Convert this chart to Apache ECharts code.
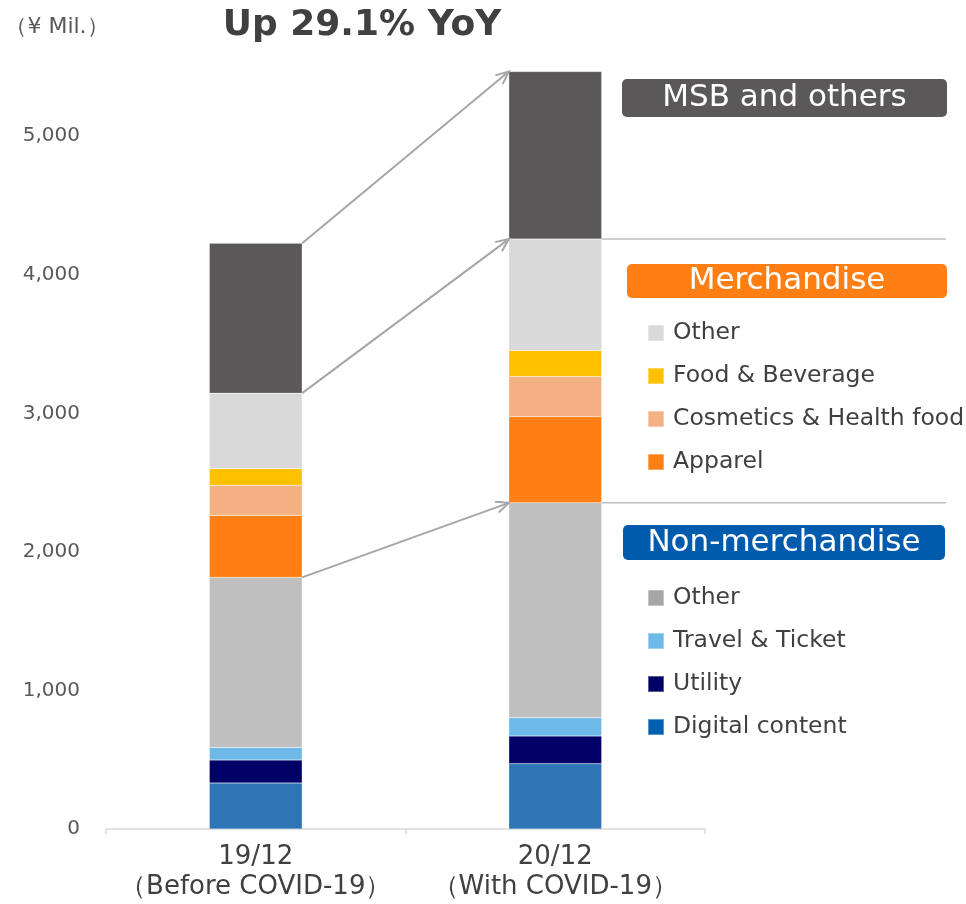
<!DOCTYPE html>
<html>
<head>
<meta charset="utf-8">
<script src="https://cdn.jsdelivr.net/npm/echarts@6/dist/echarts.min.js"></script>
<style>
  html, body { margin: 0; padding: 0; background: #fff; }
  #chart { width: 966px; height: 904px; }
</style>
</head>
<body>
<div id="chart"></div>
<script>
// categories
const categories = ['19/12\n（Before COVID-19）', '20/12\n（With COVID-19）'];

// series values (¥ Mil.), bottom to top
const digitalContent = [332, 471];
const utility = [166, 200];
const travelTicket = [91, 132];
const otherNonMerch = [1227, 1551];
const apparel = [447, 623];
const cosmetics = [219, 289];
const foodBeverage = [118, 188];
const otherMerch = [546, 804];
const msbOthers = [1082, 1209];

// axis
const Y_MIN = 0;
const Y_MAX = 5500;
const Y_INTERVAL = 1000;

// colours
const TEXT = '#404040';
const LINK = '#A6A6A6';
const FONT = 'DejaVu Sans';
const BAR_RATIO = 0.31;

const sumAt = (arrs, i) => arrs.reduce((s, a) => s + a[i], 0);
const nonMerch = [0, 1].map(i => sumAt([digitalContent, utility, travelTicket, otherNonMerch], i));
const merchTop = [0, 1].map(i => nonMerch[i] + sumAt([apparel, cosmetics, foodBeverage, otherMerch], i));
const total = [0, 1].map(i => merchTop[i] + msbOthers[i]);

const stackDefs = [
  { name: 'Digital content', data: digitalContent, color: '#2E75B6', legend: '#0060B0' },
  { name: 'Utility', data: utility, color: '#000066', legend: '#000066' },
  { name: 'Travel & Ticket', data: travelTicket, color: '#6DB9E8', legend: '#6DB9E8' },
  { name: 'Other (non-merchandise)', data: otherNonMerch, color: '#BFBFBF', legend: '#A6A6A6' },
  { name: 'Apparel', data: apparel, color: '#FF7F14', legend: '#FF7F14' },
  { name: 'Cosmetics & Health food', data: cosmetics, color: '#F4B183', legend: '#F4B183' },
  { name: 'Food & Beverage', data: foodBeverage, color: '#FFC000', legend: '#FFC000' },
  { name: 'Other (merchandise)', data: otherMerch, color: '#D9D9D9', legend: '#D9D9D9' },
  { name: 'MSB and others', data: msbOthers, color: '#5A5858', legend: '#5A5858' }
];
const colorOf = {};
stackDefs.forEach(d => { colorOf[d.name] = d.legend; });

const barSeries = stackDefs.map(d => ({
  name: d.name,
  type: 'bar',
  stack: 'total',
  barWidth: (BAR_RATIO * 100) + '%',
  data: d.data,
  itemStyle: { color: d.color, borderColor: 'rgba(255,255,255,0.35)', borderWidth: 0.5 },
  emphasis: { disabled: true }
}));

// connectors between the two bars: [fromCat, fromVal, toCat, toVal]
const arrowData = [
  [0, total[0], 1, total[1]],
  [0, merchTop[0], 1, merchTop[1]],
  [0, nonMerch[0], 1, nonMerch[1]]
];
// level guides to the right of the second bar
const guideData = [
  [1, merchTop[1]],
  [1, nonMerch[1]]
];

const legendItem = (name) => ({ name, itemStyle: { color: colorOf[name] } });
const legendBase = {
  orient: 'vertical',
  left: 642,
  icon: 'rect',
  itemWidth: 16,
  itemHeight: 16,
  itemGap: 17,
  selectedMode: false,
  formatter: (name) => name.startsWith('Other') ? 'Other' : name,
  textStyle: { color: TEXT, fontSize: 23.5, fontFamily: FONT, lineHeight: 26, padding: [0, 0, 0, 4] }
};

const header = (x, y, w, h, color, text) => ({
  type: 'group',
  children: [
    { type: 'rect', shape: { x, y, width: w, height: h, r: 5 }, style: { fill: color } },
    {
      type: 'text', x: x + w / 2, y: y + h / 2,
      style: { text, fill: '#fff', font: '31px "' + FONT + '"', align: 'center', verticalAlign: 'middle' }
    }
  ]
});

const chart = echarts.init(document.getElementById('chart'));
chart.setOption({
  backgroundColor: '#fff',
  animation: false,
  grid: { left: 106, right: 261, top: 67, bottom: 75 },
  legend: [
    Object.assign({}, legendBase, {
      top: 315,
      data: ['Other (merchandise)', 'Food & Beverage', 'Cosmetics & Health food', 'Apparel'].map(legendItem)
    }),
    Object.assign({}, legendBase, {
      top: 580,
      data: ['Other (non-merchandise)', 'Travel & Ticket', 'Utility', 'Digital content'].map(legendItem)
    })
  ],
  graphic: [
    {
      type: 'text', x: 362, y: 26,
      style: { text: 'Up 29.1% YoY', fill: TEXT, font: 'bold 36px "' + FONT + '"', align: 'center', verticalAlign: 'middle' }
    },
    {
      type: 'text', x: 57, y: 27,
      style: { text: '（¥ Mil.）', fill: '#595959', font: '22px "' + FONT + '"', align: 'center', verticalAlign: 'middle' }
    },
    header(622, 79, 325, 38, '#5A5858', 'MSB and others'),
    header(627, 264, 320, 34, '#FF7F14', 'Merchandise'),
    header(623, 525, 322, 35, '#005BAC', 'Non-merchandise')
  ],
  xAxis: {
    type: 'category',
    data: categories,
    axisLine: { lineStyle: { color: '#D9D9D9', width: 1.5 } },
    axisTick: { show: true, length: 5, lineStyle: { color: '#D9D9D9', width: 1.5 } },
    axisLabel: { interval: 0, color: TEXT, fontSize: 26, lineHeight: 30, fontFamily: FONT, margin: 13 }
  },
  yAxis: {
    type: 'value',
    min: Y_MIN,
    max: Y_MAX,
    interval: Y_INTERVAL,
    axisLine: { show: false },
    axisTick: { show: false },
    splitLine: { show: false },
    axisLabel: {
      color: '#595959', fontSize: 20, fontFamily: FONT, margin: 26, showMaxLabel: false,
      formatter: (v) => v.toLocaleString('en-US')
    }
  },
  series: barSeries.concat([
    {
      type: 'custom',
      name: 'arrows',
      silent: true,
      z: 5,
      data: arrowData,
      encode: { x: [0, 2], y: [1, 3] },
      renderItem: (params, api) => {
        const half = api.size([1, 0])[0] * BAR_RATIO / 2;
        const p0 = api.coord([api.value(0), api.value(1)]);
        const p1 = api.coord([api.value(2), api.value(3)]);
        const x0 = p0[0] + half, y0 = p0[1];
        const x1 = p1[0] - half, y1 = p1[1];
        const a = Math.atan2(y1 - y0, x1 - x0);
        const L = 14, s = 0.42;
        return {
          type: 'group',
          children: [
            { type: 'line', shape: { x1: x0, y1: y0, x2: x1, y2: y1 }, style: { stroke: LINK, lineWidth: 2 } },
            {
              type: 'polyline',
              shape: { points: [
                [x1 - L * Math.cos(a - s), y1 - L * Math.sin(a - s)],
                [x1, y1],
                [x1 - L * Math.cos(a + s), y1 - L * Math.sin(a + s)]
              ] },
              style: { stroke: LINK, lineWidth: 2, fill: null }
            }
          ]
        };
      }
    },
    {
      type: 'custom',
      name: 'guides',
      silent: true,
      z: 5,
      data: guideData,
      renderItem: (params, api) => {
        const half = api.size([1, 0])[0] * BAR_RATIO / 2;
        const p = api.coord([api.value(0), api.value(1)]);
        return {
          type: 'line',
          shape: { x1: p[0] + half, y1: p[1], x2: api.getWidth() - 20, y2: p[1] },
          style: { stroke: '#BFBFBF', lineWidth: 1.5 }
        };
      }
    }
  ])
});
</script>
</body>
</html>
